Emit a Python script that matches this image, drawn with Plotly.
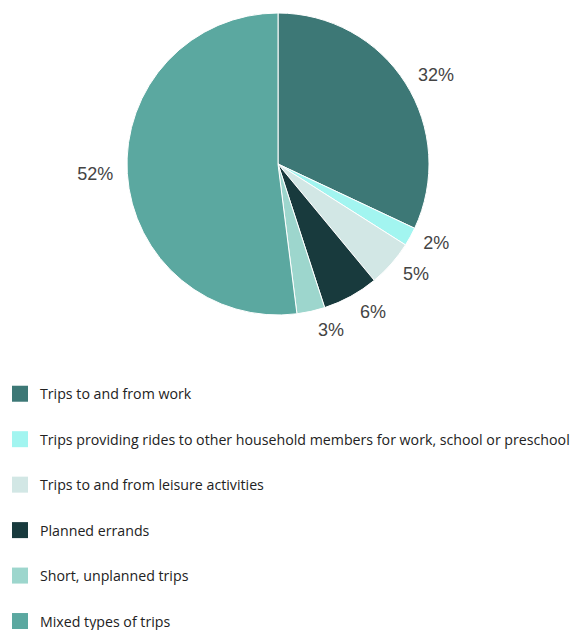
import plotly.graph_objects as go

categories = [
    "Trips to and from work",
    "Trips providing rides to other household members for work, school or preschool",
    "Trips to and from leisure activities",
    "Planned errands",
    "Short, unplanned trips",
    "Mixed types of trips",
]
values = [32, 2, 5, 6, 3, 52]
colors = ["#3d7876", "#a2f5f0", "#d2e7e5", "#183a3d", "#9dd6cd", "#5ba8a0"]

H = 630
n = len(values)
fig = go.Figure()
# visible pie
fig.add_trace(go.Pie(
    labels=categories,
    values=values,
    sort=False,
    direction="clockwise",
    rotation=0,
    marker=dict(colors=colors, line=dict(color="#ffffff", width=1)),
    textinfo="none",
    showlegend=False,
    hoverinfo="label+value",
    domain=dict(x=[0, 556 / 572], y=[1 - 315 / H, 1 - 13 / H]),
))

label_font = dict(family="Liberation Sans, Arial, sans-serif", size=18, color="#444444")
# transparent, slightly larger pies carrying the outside percentage labels
# (split in two so that neighbouring labels are not pushed apart with leader lines)
groups = [([0, 1, 2, 3, 5], (4, 324)), ([4], (4, 324))]
for g, (top, bottom) in groups:
    fig.add_trace(go.Pie(
        labels=categories,
        values=values,
        sort=False,
        direction="clockwise",
        rotation=0,
        marker=dict(colors=["rgba(0,0,0,0)"] * n, line=dict(width=0)),
        texttemplate="%{value}%",
        textposition=["outside" if i in g else "none" for i in range(n)],
        textfont=label_font,
        showlegend=False,
        hoverinfo="skip",
        domain=dict(x=[0, 556 / 572], y=[1 - bottom / H, 1 - top / H]),
    ))

for i, (name, c) in enumerate(zip(categories, colors)):
    fig.add_trace(go.Scatter(
        x=[None], y=[None], mode="markers", name=name,
        legendgroup=f"g{i}",
        marker=dict(symbol="square", size=18, color=c),
        showlegend=True,
    ))

fig.update_layout(
    width=572, height=630,
    margin=dict(l=0, r=0, t=0, b=0, autoexpand=False),
    paper_bgcolor="white", plot_bgcolor="white",
    xaxis=dict(visible=False), yaxis=dict(visible=False),
    legend=dict(
        x=0.0, y=0.4, xanchor="left", yanchor="top",
        font=dict(family="Open Sans, sans-serif", size=14.2, color="#222222"),
        tracegroupgap=24,
        itemsizing="trace",
        bgcolor="rgba(0,0,0,0)",
    ),
)

fig.write_html("out.html")
